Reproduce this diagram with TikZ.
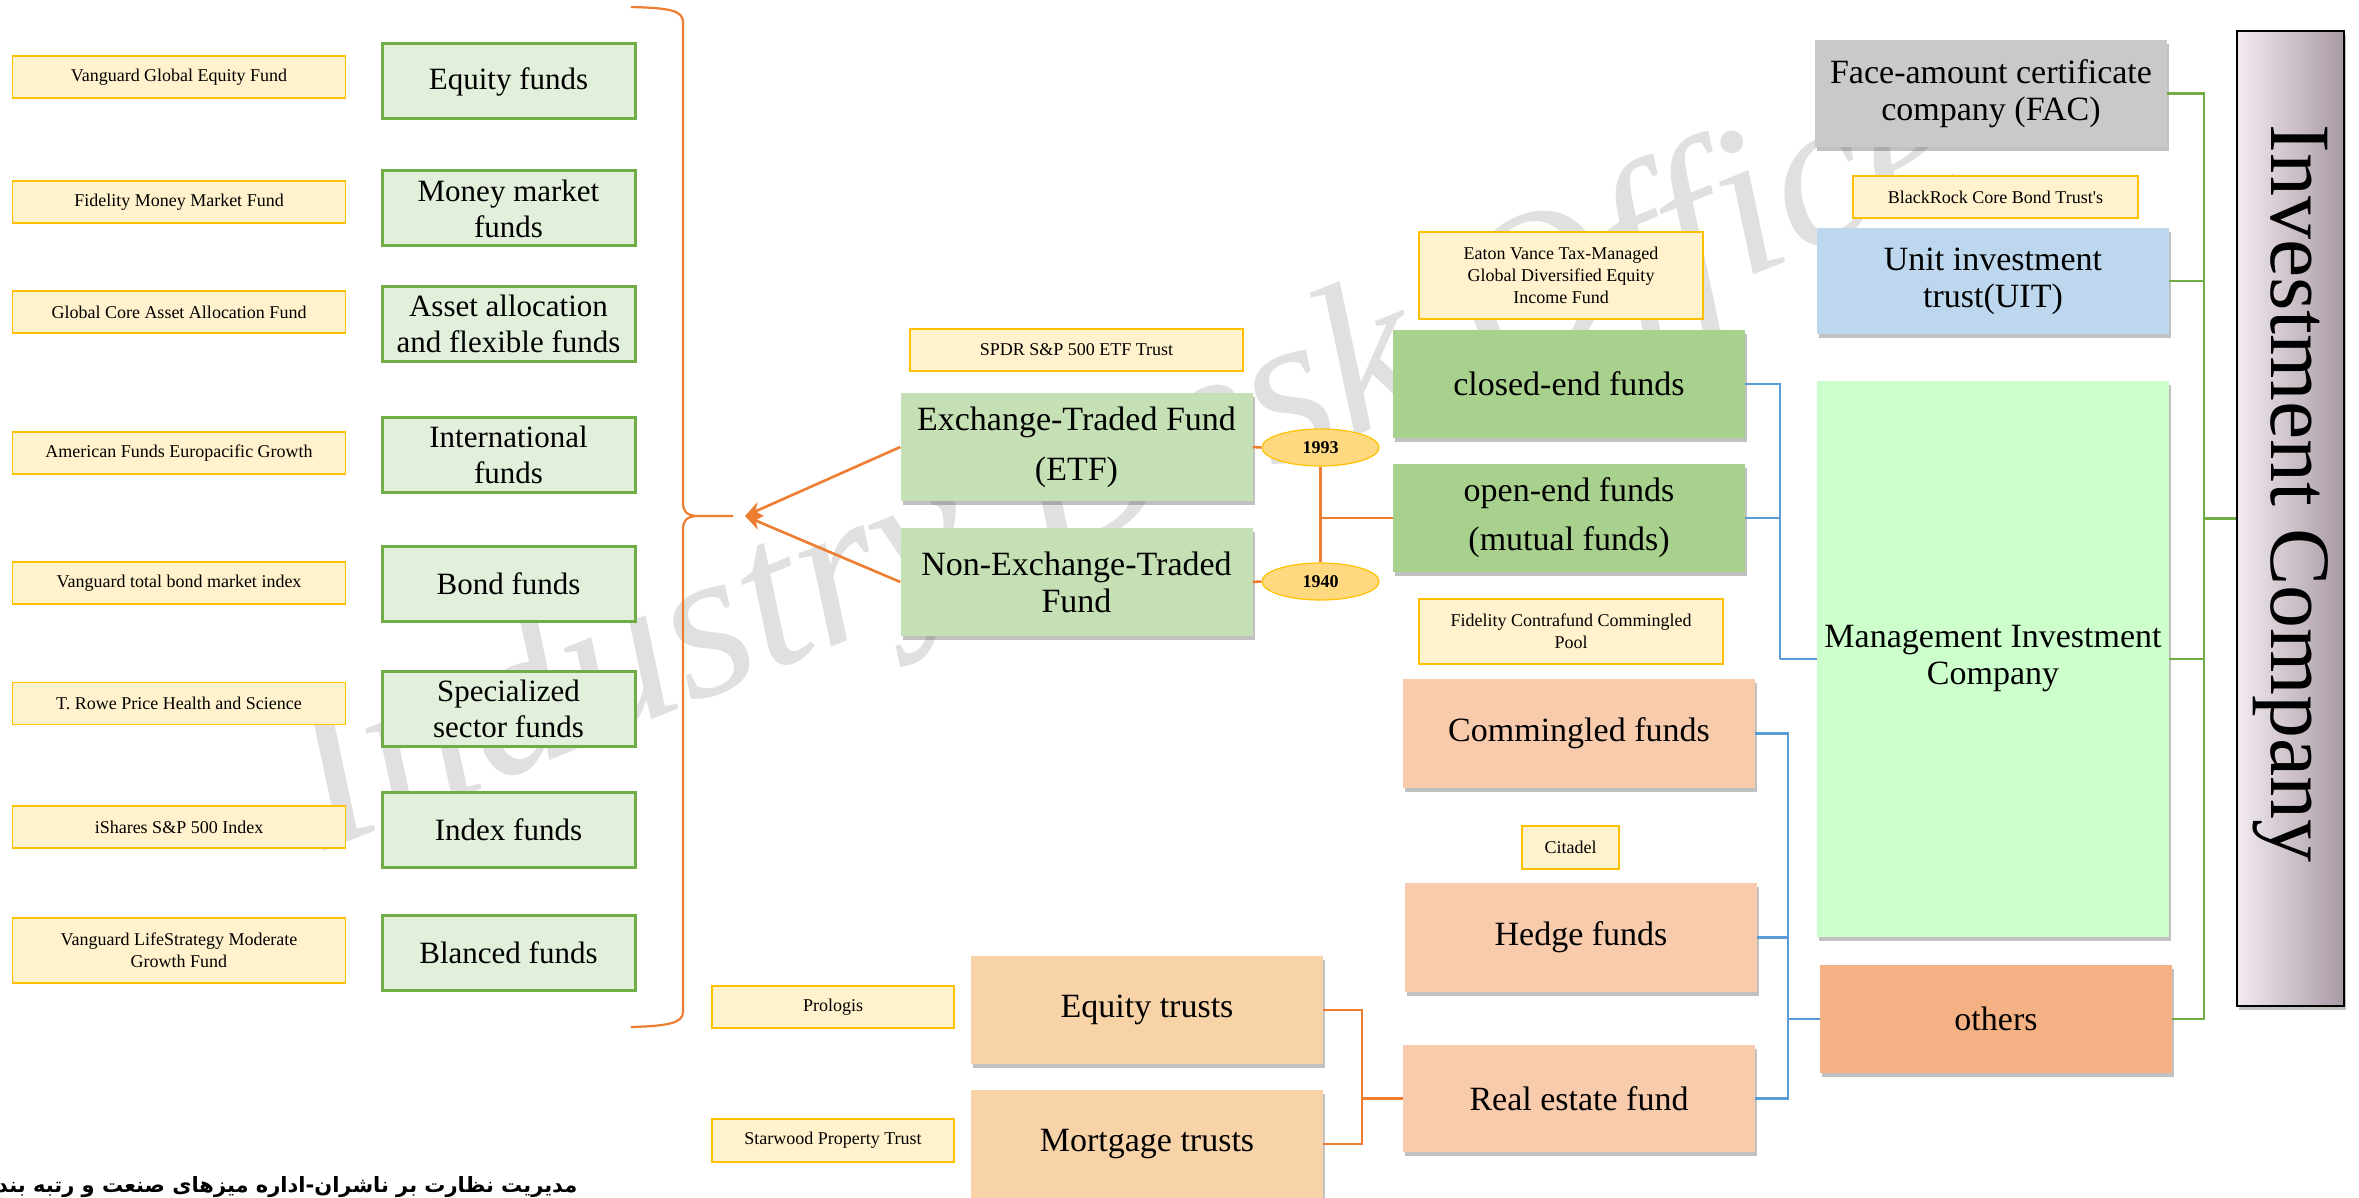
\documentclass[tikz,border=0pt]{standalone}
\usepackage{fontspec}
\setmainfont{Liberation Serif}
\newfontfamily\persianfont[Script=Arabic]{DejaVu Sans}
\TeXXeTstate=1
\usetikzlibrary{arrows.meta,calc,positioning,shapes.geometric,shadows}
\newcommand{\XEx}{179}
\newcommand{\XCat}{508.5}
\newcommand{\XTrade}{1076.5}
\newcommand{\XYear}{1320.5}
\newcommand{\XStruct}{1569}
\newcommand{\XAlt}{1579}
\newcommand{\XTrust}{1147}
\newcommand{\XSample}{833}
\newcommand{\XCo}{1993}
\newcommand{\XIC}{2290.5}
\definecolor{exFill}{HTML}{FFF2CC}
\definecolor{exStroke}{HTML}{FFC000}
\definecolor{catFill}{HTML}{E2EFDA}
\definecolor{catStroke}{HTML}{70AD47}
\definecolor{etfFill}{HTML}{C5E0B4}
\definecolor{openFill}{HTML}{A9D18E}
\definecolor{peachFill}{HTML}{F8CBAD}
\definecolor{trustFill}{HTML}{F9D3A8}
\definecolor{othersFill}{HTML}{F4B183}
\definecolor{facFill}{HTML}{C9C9C9}
\definecolor{uitFill}{HTML}{BDD7EE}
\definecolor{mgmtFill}{HTML}{CCFFCC}
\definecolor{yearFill}{HTML}{FFD980}
\definecolor{icLight}{HTML}{F3EAF1}
\definecolor{icDark}{HTML}{A89AA5}
\definecolor{wireOrange}{HTML}{ED7D31}
\definecolor{wireBlue}{HTML}{5B9BD5}
\definecolor{wireGreen}{HTML}{70AD47}

\begin{document}
\begin{tikzpicture}[
  x=1pt, y=-1pt,
  exbox/.style    = {draw=exStroke, fill=exFill, line width=1.6pt, inner sep=0pt,
                     align=center, font=\fontsize{18}{22}\selectfont},
  catbox/.style   = {draw=catStroke, fill=catFill, line width=3pt, inner sep=0pt,
                     minimum width=253pt, minimum height=75pt, align=center,
                     font=\fontsize{31}{36}\selectfont},
  fundbox/.style  = {fill=#1, inner sep=0pt, minimum width=352pt, minimum height=108pt,
                     align=center, font=\fontsize{34}{37}\selectfont,
                     drop shadow={shadow xshift=2pt, shadow yshift=-4pt,
                                  opacity=0.35, fill=black!70}},
  yearnode/.style = {ellipse, draw=exStroke, fill=yearFill, line width=1.2pt,
                     minimum width=117pt, minimum height=37pt, inner sep=0pt,
                     font=\bfseries\fontsize{18}{20}\selectfont},
  icbox/.style    = {draw=black, line width=1.6pt, left color=icLight, right color=icDark,
                     minimum width=107pt, minimum height=975pt, inner sep=0pt,
                     drop shadow={shadow xshift=2pt, shadow yshift=-4pt,
                                  opacity=0.35, fill=black!70}},
  orangewire/.style = {draw=wireOrange, line width=2.6pt},
  bluewire/.style   = {draw=wireBlue, line width=2.6pt},
  greenwire/.style  = {draw=wireGreen, line width=2.6pt},
  arrowwire/.style  = {orangewire, -{Stealth[length=17pt,width=15pt]}},
  watermark/.style  = {text=black!12, font=\itshape\fontsize{215}{215}\selectfont},
]
\useasboundingbox (0,0) rectangle (2359,1198);
\clip (0,0) rectangle (2359,1198);

% ----------------------------------------------------------------
% Watermark
% ----------------------------------------------------------------
\node[watermark, rotate=22] (mark) at (1130,470) {Industry Desk Office};

% ----------------------------------------------------------------
% Left column: fund categories with examples
% ----------------------------------------------------------------
\foreach \k/\yc/\ye/\eh/\cat/\ex in {
  1/81.5/77/42/{Equity funds}/{Vanguard Global Equity Fund},
  2/208.5/202/42/{Money market\\funds}/{Fidelity Money Market Fund},
  3/324/312/42/{Asset allocation\\and flexible funds}/{Global Core Asset Allocation Fund},
  4/454.5/453/42/{International\\funds}/{American Funds Europacific Growth},
  5/583.5/583/42/{Bond funds}/{Vanguard total bond market index},
  6/709/703.5/42/{Specialized\\sector funds}/{T. Rowe Price Health and Science},
  7/829.5/827/42/{Index funds}/{iShares S\&P 500 Index},
  8/953/950.5/65/{Blanced funds}/{Vanguard LifeStrategy Moderate\\Growth Fund}}{
  \node[catbox] (cat\k) at (\XCat,\yc) {\cat};
  \node[exbox, minimum width=333pt, minimum height=\eh pt] (ex\k) at (\XEx,\ye) {\ex};
}

% brace gathering the categories
\draw[orangewire, line width=2.2pt]
  (631,7) .. controls (668,8) and (683,10) .. (683,22) -- (683,502)
  .. controls (683,511) and (686,515) .. (696,516) -- (733,516)
  (696,516) .. controls (686,517) and (683,521) .. (683,530) -- (683,1012)
  .. controls (683,1023) and (668,1026) .. (631,1027);
\coordinate (bracetip) at (745,516);

% ----------------------------------------------------------------
% Trading type
% ----------------------------------------------------------------
\node[exbox, minimum width=333pt, minimum height=42pt] (spdr) at (\XTrade,350)
  {SPDR S\&P 500 ETF Trust};
\node[fundbox=etfFill] (etf) at (\XTrade,447) {Exchange-Traded Fund\\[13pt](ETF)};
\node[fundbox=etfFill] (netf) at (\XTrade,582) {Non-Exchange-Traded\\Fund};

\node[yearnode] (y1993) at (\XYear,447.5) {1993};
\node[yearnode] (y1940) at (\XYear,581.5) {1940};

\draw[arrowwire] (etf.west) -- (bracetip);
\draw[arrowwire] (netf.west) -- (bracetip);

% ----------------------------------------------------------------
% Structure
% ----------------------------------------------------------------
\node[exbox, minimum width=284pt, minimum height=87pt] (eaton) at (1561,275.5)
  {Eaton Vance Tax-Managed\\Global Diversified Equity\\Income Fund};
\node[fundbox=openFill] (closed) at (\XStruct,384) {closed-end funds};
\node[fundbox=openFill] (open) at (\XStruct,518) {open-end funds\\[12pt](mutual funds)};

\draw[orangewire] (etf.east) -- (y1993.west);
\draw[orangewire] (netf.east) -- (y1940.west);
\draw[orangewire] (y1993.south) -- (y1940.north);
\coordinate (yjoin) at (y1993.south |- open.west);
\draw[orangewire] (yjoin) -- (open.west);

% ----------------------------------------------------------------
% Other funds
% ----------------------------------------------------------------
\node[exbox, minimum width=304pt, minimum height=65pt] (contra) at (1571,631.5)
  {Fidelity Contrafund Commingled\\Pool};
\node[fundbox=peachFill, minimum height=109pt] (comm) at (\XAlt,733.5) {Commingled funds};
\node[exbox, minimum width=97pt, minimum height=43pt] (citadel) at (1570.5,847.5) {Citadel};
\node[fundbox=peachFill, minimum height=109pt] (hedge) at (1581,937.5) {Hedge funds};
\node[fundbox=peachFill, minimum height=107pt] (real) at (\XAlt,1098.5) {Real estate fund};

\node[exbox, minimum width=242pt, minimum height=42pt] (prologis) at (\XSample,1007) {Prologis};
\node[fundbox=trustFill] (eqt) at (\XTrust,1010) {Equity trusts};
\node[exbox, minimum width=242pt, minimum height=43pt] (starwood) at (\XSample,1140.5)
  {Starwood Property Trust};
\node[fundbox=trustFill] (mort) at (\XTrust,1144) {Mortgage trusts};

\coordinate (rjoin) at (1362,1098.5);
\draw[orangewire] (eqt.east) -| (rjoin);
\draw[orangewire] (mort.east) -| (rjoin);
\draw[orangewire] (rjoin) -- (real.west);

% ----------------------------------------------------------------
% Company types
% ----------------------------------------------------------------
\node[fundbox=facFill, minimum height=107pt] (fac) at (1991,93.5)
  {Face-amount certificate\\company (FAC)};
\node[exbox, minimum width=285pt, minimum height=42pt] (blackrock) at (1995.5,197)
  {BlackRock Core Bond Trust\textquotesingle s};
\node[fundbox=uitFill, minimum height=106pt] (uit) at (\XCo,281) {Unit investment\\trust(UIT)};
\node[fundbox=mgmtFill, minimum height=556pt] (mgmt) at (\XCo,659)
  {Management Investment\\Company};
\node[fundbox=othersFill] (others) at (1996,1019) {others};

\node[icbox] (ic) at (\XIC,518.5)
  {\rotatebox{-90}{\fontsize{86}{86}\selectfont Investment Company\hspace*{50pt}}};

\coordinate (bjoinA) at (1780,659);
\draw[bluewire] (closed.east) -| (bjoinA);
\draw[bluewire] (open.east) -| (bjoinA);
\draw[bluewire] (bjoinA) -- (mgmt.west);

\coordinate (bjoinB) at (1788,1019);
\draw[bluewire] (comm.east) -| (bjoinB);
\draw[bluewire] (hedge.east) -| (bjoinB);
\draw[bluewire] (real.east) -| (bjoinB);
\draw[bluewire] (bjoinB) -- (others.west);

\coordinate (gjoin) at (2204,518.5);
\draw[greenwire] (fac.east) -| (gjoin);
\draw[greenwire] (uit.east) -| (gjoin);
\draw[greenwire] (mgmt.east) -| (gjoin);
\draw[greenwire] (others.east) -| (gjoin);
\draw[greenwire] (gjoin) -- (ic.west);

% ----------------------------------------------------------------
% Footer
% ----------------------------------------------------------------
\node[anchor=base east, font=\persianfont\bfseries\fontsize{21}{24}\selectfont] (office)
  at (581,1192) {\beginR مدیریت نظارت بر ناشران-اداره میزهای صنعت و رتبه بندی\endR};

\end{tikzpicture}
\end{document}
